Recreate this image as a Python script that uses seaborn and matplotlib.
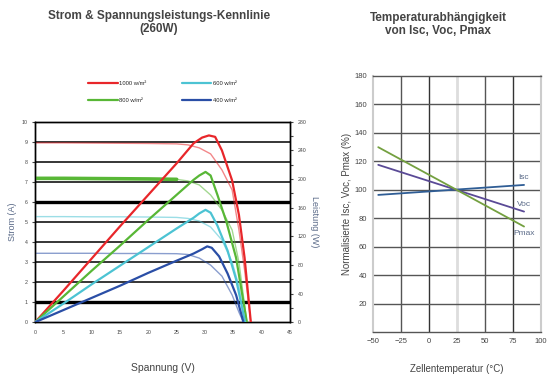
import numpy as np
import pandas as pd
import seaborn as sns
import matplotlib.pyplot as plt
from matplotlib.ticker import MultipleLocator

# --- Data: I-V and P-V curves ---
irradiance = ["1000 w/m²", "800 w/m²", "600 w/m²", "400 w/m²"]
colors = ["#e8262a", "#58b736", "#4cc3d3", "#2a4ea6"]

iv_volt = {
    "1000 w/m²": [0, 5, 10, 15, 20, 25, 27, 29, 31, 33, 34.8, 36, 37, 38.1],
    "800 w/m²": [0, 5, 10, 15, 20, 25, 27, 29, 31, 33, 34.8, 36, 37.4],
    "600 w/m²": [0, 5, 10, 15, 20, 25, 27, 29, 31, 33, 34.8, 36, 37.1],
    "400 w/m²": [0, 5, 10, 15, 20, 25, 27, 29, 31, 33, 34.8, 36, 36.8],
}
iv_curr = {
    "1000 w/m²": [8.95, 8.95, 8.94, 8.93, 8.92, 8.9, 8.85, 8.7, 8.4, 7.6, 6.6, 4.6, 2.6, 0],
    "800 w/m²": [7.18, 7.18, 7.17, 7.16, 7.15, 7.13, 7.05, 6.85, 6.35, 5.6, 4.6, 3.0, 0],
    "600 w/m²": [5.27, 5.27, 5.26, 5.26, 5.25, 5.23, 5.18, 5.05, 4.75, 4.1, 3.0, 1.8, 0],
    "400 w/m²": [3.44, 3.44, 3.44, 3.43, 3.43, 3.42, 3.38, 3.2, 2.85, 2.3, 1.36, 0.5, 0],
}
pv_volt = {
    "1000 w/m²": [0, 5, 10, 15, 20, 25, 28, 29.5, 30.7, 31.8, 33, 34.8, 36, 37, 38.1],
    "800 w/m²": [0, 5, 10, 15, 20, 25, 28, 29, 30.1, 31, 32.2, 33.8, 35.5, 37.4],
    "600 w/m²": [0, 5, 10, 15, 20, 25, 28, 29, 30.1, 31, 32.2, 34, 35.5, 37.1],
    "400 w/m²": [0, 5, 10, 15, 20, 25, 28, 29.5, 30.4, 31.2, 32.5, 34, 35.5, 36.8],
}
pv_power = {
    "1000 w/m²": [0, 44, 89, 134, 178, 222, 250, 258, 261, 259, 240, 198, 150, 90, 0],
    "800 w/m²": [0, 36, 72, 107, 143, 178, 199, 205, 210, 205, 178, 140, 90, 0],
    "600 w/m²": [0, 26, 53, 79, 105, 131, 146, 152, 157, 153, 135, 100, 60, 0],
    "400 w/m²": [0, 17, 34, 51, 69, 86, 96, 102, 106, 104, 92, 68, 38, 0],
}

# --- Data: temperature dependence ---
temp = [-45, 85]
isc_pct = [96.5, 103.5]
voc_pct = [117.6, 84.8]
pmax_pct = [130, 74.3]

sns.set_style("white")
plt.rcParams["font.family"] = ["Liberation Sans", "DejaVu Sans"]
text_col = "#444444"
label_col = "#5a6a88"

fig = plt.figure(figsize=(5.48, 3.76), dpi=100)

# ---------------- left chart ----------------
ax = fig.add_axes([0.064, 0.143, 0.465, 0.533])
ax2 = ax.twinx()

for y in range(1, 10):
    lw = 2.4 if y in (1, 6) else 1.1
    ax.axhline(y, color="black", lw=lw, zorder=1)

for name, col in zip(irradiance, colors):
    sns.lineplot(x=iv_volt[name], y=iv_curr[name], ax=ax, color=col,
                 lw=1.0, alpha=0.55, sort=False, zorder=3)
    sns.lineplot(x=pv_volt[name], y=pv_power[name], ax=ax2, color=col,
                 lw=1.6, sort=False, zorder=3, label=name)

# the flat part of the 800 w/m² curve is drawn heavy in the original
sns.lineplot(x=iv_volt["800 w/m²"][:6], y=iv_curr["800 w/m²"][:6], ax=ax,
             color=colors[1], lw=2.6, sort=False, zorder=3)

ax.set_xlim(0, 45)
ax.set_ylim(0, 10)
ax2.set_ylim(0, 280)
ax.xaxis.set_major_locator(MultipleLocator(5))
ax.yaxis.set_major_locator(MultipleLocator(1))
ax2.yaxis.set_major_locator(MultipleLocator(40))
ax2.yaxis.set_minor_locator(MultipleLocator(20))
ax.tick_params(labelsize=3.8, colors=text_col, length=2, width=0.8)
ax2.tick_params(which="both", labelsize=3.8, colors=text_col, length=2, width=0.8)
for a in (ax, ax2):
    for s in a.spines.values():
        s.set_color("black")
        s.set_linewidth(1.0)

ax.set_xlabel("Spannung (V)", fontsize=7.5, color=text_col, labelpad=20)
ax.set_ylabel("Strom (A)", fontsize=6.5, color=label_col, labelpad=3)
ax2.set_ylabel("Leistung (W)", fontsize=6.5, color=label_col, rotation=270, labelpad=9)

handles, labels = ax2.get_legend_handles_labels()
ax2.legend(handles, labels, loc="lower center", bbox_to_anchor=(0.5, 1.07),
           ncol=2, frameon=False, fontsize=4.2, handlelength=5,
           columnspacing=6, labelspacing=2.0, handletextpad=0.3)

fig.text(0.29, 0.94, "Strom & Spannungsleistungs-Kennlinie\n(260W)", ha="center",
         va="center", fontsize=8.5, fontweight="bold", color=text_col)

# ---------------- right chart ----------------
bx = fig.add_axes([0.680, 0.116, 0.307, 0.682])

for x in [-25, 0, 25, 50, 75]:
    c, lw = ("#dddddd", 2.0) if x == 25 else ("#555555", 1.0)
    if x == 0 or x == 75:
        c = "#333333"
    bx.axvline(x, color=c, lw=lw, zorder=1)
for y in range(20, 180, 20):
    bx.axhline(y, color="#555555", lw=1.0, zorder=1)

temp_df = pd.DataFrame({
    "temp": temp * 3,
    "pct": isc_pct + voc_pct + pmax_pct,
    "series": ["Isc"] * 2 + ["Voc"] * 2 + ["Pmax"] * 2,
})
line_cols = {"Isc": "#2f5d95", "Voc": "#5a4a96", "Pmax": "#74a040"}
sns.lineplot(data=temp_df, x="temp", y="pct", hue="series", palette=line_cols,
             ax=bx, lw=1.3, legend=False, zorder=3)

bx.text(85, 106, "Isc", fontsize=6, color=label_col, ha="center", va="bottom")
bx.text(85, 87, "Voc", fontsize=6, color=label_col, ha="center", va="bottom")
bx.text(85, 72, "Pmax", fontsize=6, color=label_col, ha="center", va="top")

bx.set_xlim(-50, 100)
bx.set_ylim(0, 180)
bx.set_xticks([-50, -25, 0, 25, 50, 75, 100])
bx.set_yticks(range(20, 181, 20))
bx.tick_params(labelsize=5.5, colors=text_col, length=0, pad=4)
for s in bx.spines.values():
    s.set_color("#cccccc")
    s.set_linewidth(1.5)
bx.spines["top"].set_color("#555555")
bx.spines["top"].set_linewidth(1.0)
bx.spines["bottom"].set_color("#555555")
bx.spines["bottom"].set_linewidth(1.0)

bx.set_xlabel("Zellentemperatur (°C)", fontsize=7, color=text_col, labelpad=14)
bx.set_ylabel("Normalisierte Isc, Voc, Pmax (%)", fontsize=7, color=text_col, labelpad=2)

fig.text(0.8, 0.935, "Temperaturabhängigkeit\nvon Isc, Voc, Pmax", ha="center",
         va="center", fontsize=8.5, fontweight="bold", color=text_col)

fig.savefig("out.png", dpi=100)
